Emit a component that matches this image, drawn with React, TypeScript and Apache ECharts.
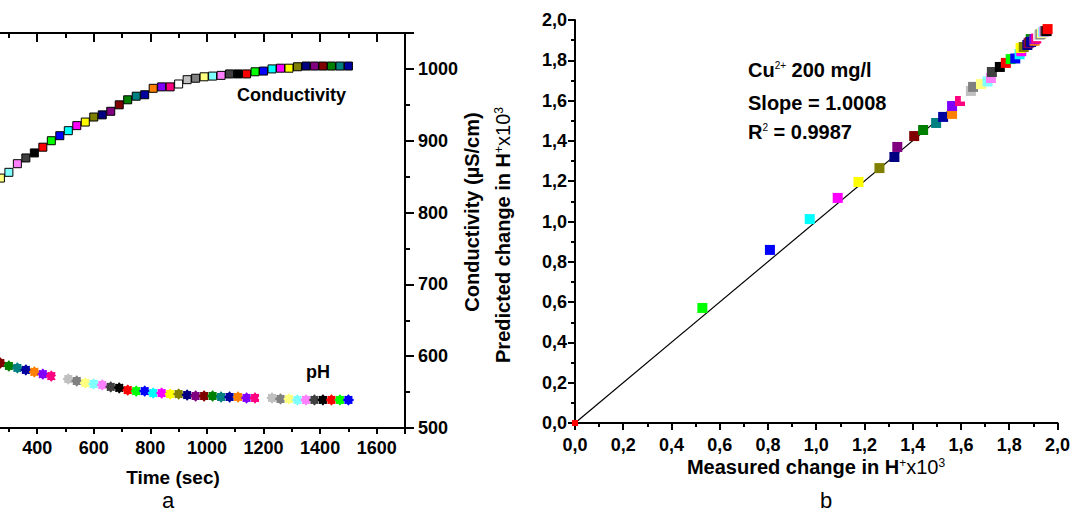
import React, { useEffect, useRef } from "react";
import * as echarts from "echarts";

// Origin-style colour cycle used for the markers
const palette = [
  "#000000", "#FF0000", "#00FF00", "#0000FF", "#00FFFF", "#FF00FF", "#FFFF00", "#808000",
  "#000080", "#800080", "#800000", "#008000", "#008080", "#0000A0", "#FF8000", "#8000FF",
  "#FF0080", "#FFFFFF", "#C0C0C0", "#808080", "#FFFF80", "#80FFFF", "#FF80FF", "#404040",
];

// Panel a: time (sec)
const timeSec = [
  270, 300, 330, 360, 390, 420, 450, 480, 510, 540, 570, 600, 630, 660, 690, 720, 750, 780, 810, 840, 870,
  900, 930, 960, 990, 1020, 1050, 1080, 1110, 1140, 1170, 1200, 1230, 1260, 1290, 1320, 1350, 1380, 1410,
  1440, 1470, 1500,
];
// Conductivity (µS/cm)
const conductivity = [
  848, 856, 868, 876, 883, 891, 900, 907, 914, 921, 926, 933, 936, 941, 950, 957, 962, 964, 973, 975, 975,
  979, 985, 987, 989, 990, 991, 993, 993, 993, 996, 997, 1000, 1001, 1001, 1003, 1004, 1004, 1004, 1004,
  1004, 1004,
];
// pH (left axis, outside the visible crop)
const pH = [
  3.329, 3.314, 3.304, 3.294, 3.284, 3.273, 3.263, 3.256, 3.248, 3.238, 3.228, 3.223, 3.218, 3.208, 3.203,
  3.192, 3.187, 3.187, 3.177, 3.177, 3.172, 3.172, 3.167, 3.162, 3.162, 3.162, 3.157, 3.157, 3.157, 3.152,
  3.152, 3.152, 3.152, 3.147, 3.147, 3.142, 3.142, 3.142, 3.142, 3.142, 3.142, 3.142,
];

// Panel b: measured vs predicted change in H+ x10^3
const measured = [
  0, 0.528, 0.808, 0.973, 1.089, 1.175, 1.262, 1.324, 1.336, 1.406, 1.443, 1.497, 1.526, 1.563, 1.563,
  1.596, 1.62, 1.641, 1.65, 1.683, 1.71, 1.724, 1.728, 1.761, 1.786, 1.806, 1.825, 1.843, 1.85, 1.847,
  1.86, 1.875, 1.88, 1.885, 1.889, 1.895, 1.89, 1.905, 1.905, 1.912, 1.92, 1.925, 1.93, 1.935, 1.94,
  1.945, 1.95, 1.955, 1.959,
];
const predicted = [
  0, 0.571, 0.859, 1.012, 1.117, 1.196, 1.265, 1.32, 1.37, 1.424, 1.454, 1.489, 1.519, 1.534, 1.573,
  1.598, 1.62, 1.648, 1.668, 1.682, 1.695, 1.712, 1.742, 1.767, 1.787, 1.806, 1.809, 1.83, 1.845, 1.861,
  1.866, 1.876, 1.885, 1.89, 1.905, 1.895, 1.891, 1.897, 1.905, 1.908, 1.92, 1.926, 1.93, 1.935, 1.94,
  1.943, 1.945, 1.945, 1.955,
];
// Fitted line (slope = 1.0008)
const fitX = [0.01, 1.96];
const fitY = [0.01, 1.9616];

// Smallest time tick label that is visible in the cropped panel a
const firstVisibleTimeLabel = 400;

const FONT = "Liberation Sans, Arial, sans-serif";
// The chart canvas starts this many pixels left of the page, so panel a is cropped like the reference
const OFF = 79;

function flowerSymbol(): string {
  const n = 96;
  let d = "";
  for (let k = 0; k <= n; k++) {
    const t = (2 * Math.PI * k) / n;
    const r = 1 + 0.13 * Math.cos(8 * t);
    const x = r * Math.cos(t);
    const y = r * Math.sin(t);
    d += (k === 0 ? "M" : "L") + x.toFixed(3) + " " + y.toFixed(3) + " ";
  }
  return "path://" + d + "Z";
}

const axisLine = { show: true, onZero: false, lineStyle: { color: "#000", width: 2 } };
const labelStyle = { color: "#000", fontFamily: FONT, fontWeight: "bold" as const, fontSize: 18 };

const center = { align: "center", verticalAlign: "middle", textAlign: "center", textVerticalAlign: "middle" };
const leftMid = { align: "left", verticalAlign: "middle", textAlign: "left", textVerticalAlign: "middle" };

export default function App() {
  const ref = useRef<HTMLDivElement>(null);

  useEffect(() => {
    if (!ref.current) return;
    const chart = echarts.init(ref.current, undefined, { renderer: "svg" });

    const condData = timeSec.map((t, i) => [t, conductivity[i]]);
    const phData = timeSec.map((t, i) => [t, pH[i]]);
    const bData = measured.map((m, i) => ({
      value: [m, predicted[i]],
      symbolSize: i === 0 ? 6 : 10,
    }));
    const fitData = fitX.map((x, i) => [x, fitY[i]]);
    const comma = (v: number) => v.toFixed(1).replace(".", ",");

    const sup = { fontSize: 12, fontFamily: FONT, fill: "#000", verticalAlign: "top" as const };
    const nB = { fontSize: 20, fontWeight: "bold", fontFamily: FONT, fill: "#000" };
    const nR = { fontSize: 20, fontFamily: FONT, fill: "#000" };

    chart.setOption({
      animation: false,
      backgroundColor: "#fff",
      grid: [
        { left: 0, top: 33, width: 484, height: 395 },
        { left: 575 + OFF, top: 20, width: 485, height: 403 },
      ],
      xAxis: [
        {
          gridIndex: 0, type: "value", position: "bottom", min: 0, max: 1700, interval: 200,
          axisLine, splitLine: { show: false },
          axisTick: { show: true, length: 6, lineStyle: { color: "#000", width: 2 } },
          minorTick: { show: true, splitNumber: 2, length: 4, lineStyle: { color: "#000", width: 2 } },
          axisLabel: {
            ...labelStyle, margin: 11,
            formatter: (v: number) => (v % 200 === 0 && v >= firstVisibleTimeLabel ? String(v) : ""),
          },
        },
        {
          gridIndex: 0, type: "value", position: "top", min: 0, max: 1700, interval: 200,
          axisLine, splitLine: { show: false },
          axisTick: { show: true, inside: true, length: 9, lineStyle: { color: "#000", width: 2 } },
          minorTick: { show: true, splitNumber: 2, length: 5, lineStyle: { color: "#000", width: 2 } },
          axisLabel: { show: false },
        },
        {
          gridIndex: 1, type: "value", position: "bottom", min: 0, max: 2, interval: 0.2,
          axisLine, splitLine: { show: false },
          axisTick: { show: true, length: 7, lineStyle: { color: "#000", width: 2 } },
          minorTick: { show: true, splitNumber: 2, length: 4, lineStyle: { color: "#000", width: 2 } },
          axisLabel: { ...labelStyle, margin: 13, formatter: comma },
        },
      ],
      yAxis: [
        {
          gridIndex: 0, type: "value", position: "left", min: 3, max: 5, show: false,
        },
        {
          gridIndex: 0, type: "value", position: "right", min: 500, max: 1050, interval: 100,
          axisLine, splitLine: { show: false },
          axisTick: { show: true, length: 9, lineStyle: { color: "#000", width: 2 } },
          minorTick: { show: true, splitNumber: 2, length: 5, lineStyle: { color: "#000", width: 2 } },
          axisLabel: { ...labelStyle, margin: 13, formatter: (v: number) => (v % 100 === 0 ? String(v) : "") },
        },
        {
          gridIndex: 1, type: "value", position: "left", min: 0, max: 2, interval: 0.2,
          axisLine, splitLine: { show: false },
          axisTick: { show: true, length: 7, lineStyle: { color: "#000", width: 2 } },
          minorTick: { show: true, splitNumber: 2, length: 4, lineStyle: { color: "#000", width: 2 } },
          axisLabel: { ...labelStyle, margin: 8, formatter: comma },
        },
      ],
      series: [
        {
          type: "scatter", xAxisIndex: 0, yAxisIndex: 0, data: phData,
          symbol: flowerSymbol(), symbolSize: 11,
          itemStyle: { color: (p: any) => palette[(p.dataIndex + 10) % 24], opacity: 1 },
        },
        {
          type: "scatter", xAxisIndex: 0, yAxisIndex: 1, data: condData,
          symbol: "rect", symbolSize: 8,
          itemStyle: {
            color: (p: any) => palette[(p.dataIndex + 20) % 24],
            borderColor: "#000", borderWidth: 1, opacity: 1,
          },
        },
        {
          type: "line", xAxisIndex: 2, yAxisIndex: 2, data: fitData,
          symbol: "none", lineStyle: { color: "#000", width: 1.2 }, z: 1,
        },
        {
          type: "scatter", xAxisIndex: 2, yAxisIndex: 2, data: bData,
          symbol: "rect", z: 3,
          itemStyle: { color: (p: any) => palette[(p.dataIndex + 1) % 24], opacity: 1 },
        },
      ],
      graphic: [
        {
          type: "text", x: 237 + OFF, y: 95,
          style: { text: "Conductivity", font: `bold 18px ${FONT}`, fill: "#000", ...leftMid },
        },
        {
          type: "text", x: 318 + OFF, y: 372,
          style: { text: "pH", font: `bold 18px ${FONT}`, fill: "#000", ...center },
        },
        {
          type: "text", x: 173 + OFF, y: 477,
          style: { text: "Time (sec)", font: `bold 19px ${FONT}`, fill: "#000", ...center },
        },
        {
          type: "text", x: 168 + OFF, y: 500,
          style: { text: "a", font: `22px ${FONT}`, fill: "#000", ...center },
        },
        {
          type: "text", x: 826 + OFF, y: 500,
          style: { text: "b", font: `22px ${FONT}`, fill: "#000", ...center },
        },
        {
          type: "text", x: 472 + OFF, y: 212, rotation: Math.PI / 2,
          style: { text: "Conductivity (µS/cm)", font: `bold 20px ${FONT}`, fill: "#000", ...center },
        },
        {
          type: "text", x: 503 + OFF, y: 235, rotation: Math.PI / 2,
          style: {
            text: "{n|Predicted change in H}{s|+}{r|x10}{s|3}",
            ...center,
            rich: { n: nB, r: nR, s: sup },
          },
        },
        {
          type: "text", x: 816 + OFF, y: 467,
          style: {
            text: "{n|Measured change in H}{s|+}{r|x10}{s|3}",
            ...center,
            rich: { n: nB, r: nR, s: sup },
          },
        },
        {
          type: "text", x: 748 + OFF, y: 70,
          style: {
            text: "{n|Cu}{s|2+}{n| 200 mg/l}",
            ...leftMid,
            rich: { n: nB, s: { ...sup, fontSize: 10 } },
          },
        },
        {
          type: "text", x: 748 + OFF, y: 103,
          style: { text: "Slope = 1.0008", font: `bold 20px ${FONT}`, fill: "#000", ...leftMid },
        },
        {
          type: "text", x: 748 + OFF, y: 132,
          style: {
            text: "{n|R}{s|2}{n| = 0.9987}",
            ...leftMid,
            rich: { n: nB, s: { ...sup, fontSize: 10 } },
          },
        },
      ],
    });

    return () => chart.dispose();
  }, []);

  return (
    <div
      ref={ref}
      style={{ position: "fixed", left: -OFF, top: 0, width: 1073 + OFF, height: 512, background: "#fff" }}
    />
  );
}
